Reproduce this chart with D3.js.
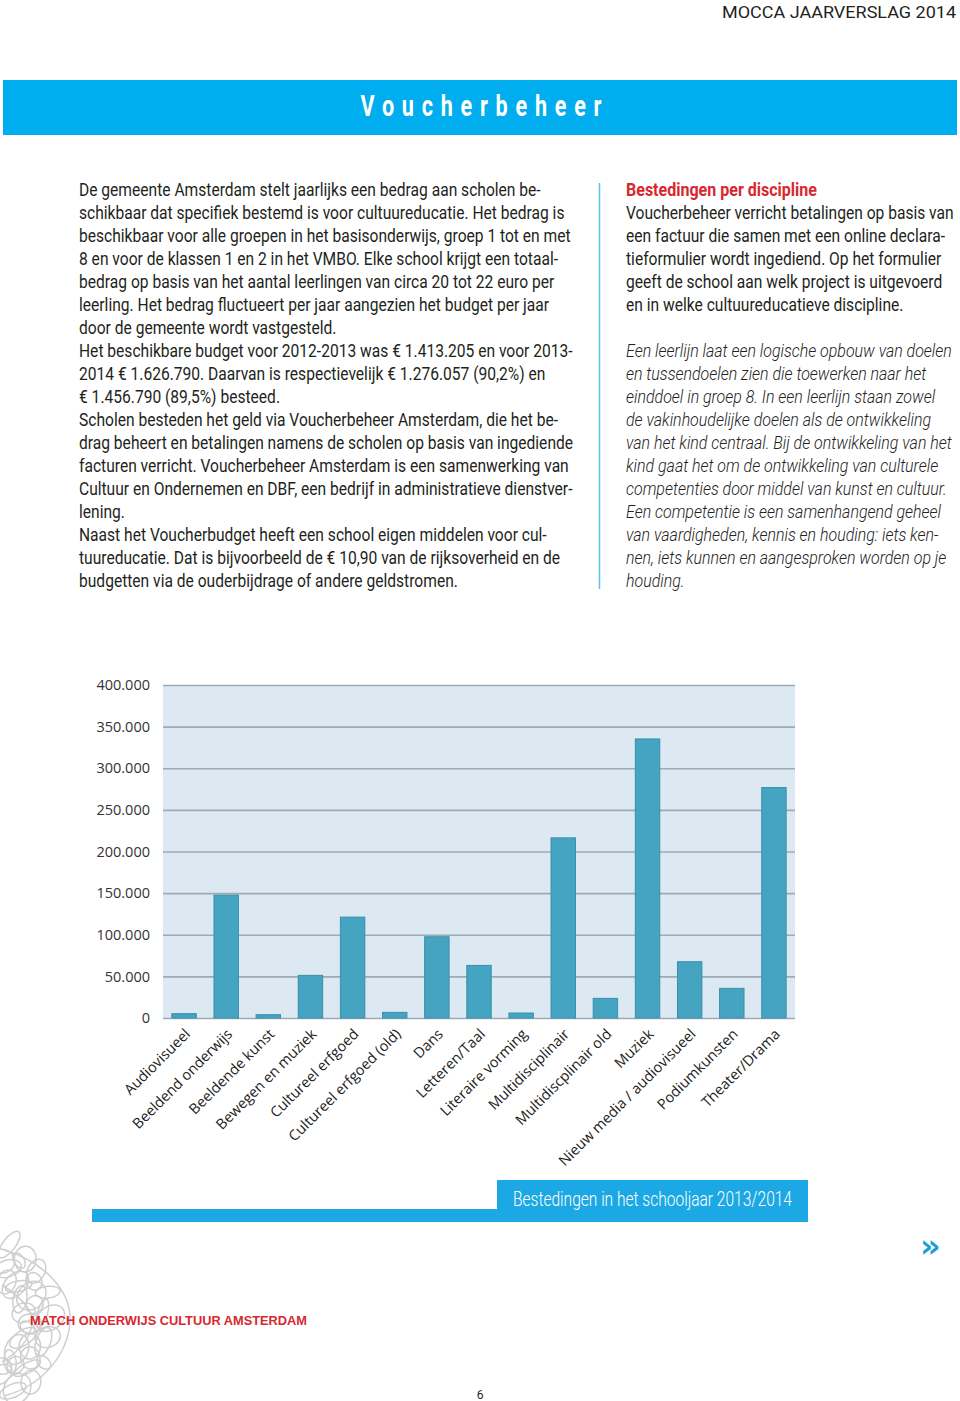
<!DOCTYPE html>
<html><head><meta charset="utf-8">
<script src="https://cdn.jsdelivr.net/npm/d3@7/dist/d3.min.js"></script>
<style>html,body{margin:0;padding:0;background:#fff}svg{display:block}</style>
</head><body>
<script>
// ---- Chart data ----
const categories = ["Audiovisueel","Beeldend onderwijs","Beeldende kunst","Bewegen en muziek","Cultureel erfgoed","Cultureel erfgoed (old)","Dans","Letteren/Taal","Literaire vorming","Multidisciplinair","Multidiscplinair old","Muziek","Nieuw media / audiovisueel","Podiumkunsten","Theater/Drama"];
const values = [5200, 147600, 4000, 51200, 121200, 6800, 97600, 63200, 6000, 216400, 23600, 335200, 67600, 35600, 276800];
const yTicks = [0, 50000, 100000, 150000, 200000, 250000, 300000, 350000, 400000];
const yTickLabels = ["0","50.000","100.000","150.000","200.000","250.000","300.000","350.000","400.000"];

// ---- Page texts ----
const headerText = "MOCCA JAARVERSLAG 2014";
const titleText = "Voucherbeheer";
const leftLines = [
"De gemeente Amsterdam stelt jaarlijks een bedrag aan scholen be-",
"schikbaar dat specifiek bestemd is voor cultuureducatie. Het bedrag is",
"beschikbaar voor alle groepen in het basisonderwijs, groep 1 tot en met",
"8 en voor de klassen 1 en 2 in het VMBO. Elke school krijgt een totaal-",
"bedrag op basis van het aantal leerlingen van circa 20 tot 22 euro per",
"leerling. Het bedrag fluctueert per jaar aangezien het budget per jaar",
"door de gemeente wordt vastgesteld.",
"Het beschikbare budget voor 2012-2013 was \u20AC 1.413.205 en voor 2013-",
"2014 \u20AC 1.626.790. Daarvan is respectievelijk \u20AC 1.276.057 (90,2%) en",
"\u20AC 1.456.790 (89,5%) besteed.",
"Scholen besteden het geld via Voucherbeheer Amsterdam, die het be-",
"drag beheert en betalingen namens de scholen op basis van ingediende",
"facturen verricht. Voucherbeheer Amsterdam is een samenwerking van",
"Cultuur en Ondernemen en DBF, een bedrijf in administratieve dienstver-",
"lening.",
"Naast het Voucherbudget heeft een school eigen middelen voor cul-",
"tuureducatie. Dat is bijvoorbeeld de \u20AC 10,90 van de rijksoverheid en de",
"budgetten via de ouderbijdrage of andere geldstromen."
];
const rightHeading = "Bestedingen per discipline";
const rightLines = [
"Voucherbeheer verricht betalingen op basis van",
"een factuur die samen met een online declara-",
"tieformulier wordt ingediend. Op het formulier",
"geeft de school aan welk project is uitgevoerd",
"en in welke cultuureducatieve discipline."
];
const rightItalic = [
"Een leerlijn laat een logische opbouw van doelen",
"en tussendoelen zien die toewerken naar het",
"einddoel in groep 8. In een leerlijn staan zowel",
"de vakinhoudelijke doelen als de ontwikkeling",
"van het kind centraal. Bij de ontwikkeling van het",
"kind gaat het om de ontwikkeling van culturele",
"competenties door middel van kunst en cultuur.",
"Een competentie is een samenhangend geheel",
"van vaardigheden, kennis en houding: iets ken-",
"nen, iets kunnen en aangesproken worden op je",
"houding."
];
const captionText = "Bestedingen in het schooljaar 2013/2014";
const footerText = "MATCH ONDERWIJS CULTUUR AMSTERDAM";

const W = 960, H = 1401;
const bodyFont = "Roboto,'Liberation Sans',sans-serif";
const blue = "#00adee";
const ink = "#231f20";
const svg = d3.select("body").append("svg").attr("width", W).attr("height", H);

// measure horizontal condensing factor for body text
const bodySize = 17.5;
const probe = svg.append("text").attr("font-family", bodyFont).attr("font-size", bodySize).text(leftLines[2]);
const sx = 492 / probe.node().getComputedTextLength();
probe.remove();
const probeI = svg.append("text").attr("font-family", bodyFont).attr("font-style","italic").attr("font-weight",300)
  .attr("font-size", bodySize).text(rightItalic[4]);
const sxI = 326 / probeI.node().getComputedTextLength();
probeI.remove();

// Header
svg.append("text").attr("x", 956).attr("y", 18).attr("text-anchor","end")
  .attr("font-family", bodyFont).attr("font-size", 16)
  .attr("textLength", 234).attr("lengthAdjust","spacingAndGlyphs")
  .attr("fill", ink).text(headerText);
svg.append("rect").attr("x", 3).attr("y", 80).attr("width", 954).attr("height", 55).attr("fill", blue);
svg.append("text").attr("transform", "translate(481,116) scale(0.72,1)").attr("text-anchor","middle")
  .attr("font-family", bodyFont).attr("font-weight","bold").attr("font-size", 30)
  .attr("textLength", 241/0.72).attr("lengthAdjust","spacing").attr("fill","#fff").text(titleText);

// Body text
const lh = 23, top0 = 196;
svg.append("g").selectAll("text").data(leftLines).join("text")
  .attr("transform", (d,i) => `translate(79,${top0 + i*lh}) scale(${sx},1)`)
  .attr("font-family", bodyFont).attr("font-size", bodySize).attr("fill", ink).text(d => d);

svg.append("line").attr("x1", 599.5).attr("x2", 599.5).attr("y1", 183).attr("y2", 589)
  .attr("stroke", "#5cc3ee").attr("stroke-width", 1.5);

svg.append("text").attr("transform", `translate(626,${top0}) scale(${sx},1)`).attr("font-family", bodyFont)
  .attr("font-weight","bold").attr("font-size", 18).attr("fill", "#d7282f").text(rightHeading);
svg.append("g").selectAll("text").data(rightLines).join("text")
  .attr("transform", (d,i) => `translate(626,${top0 + (i+1)*lh}) scale(${sx},1)`)
  .attr("font-family", bodyFont).attr("font-size", bodySize).attr("fill", ink).text(d => d);
svg.append("g").selectAll("text").data(rightItalic).join("text")
  .attr("transform", (d,i) => `translate(626,${top0 + (i+7)*lh}) scale(${sxI},1)`)
  .attr("font-family", bodyFont).attr("font-style","italic").attr("font-weight",300).attr("font-size", bodySize)
  .attr("fill", "#222").text(d => d);

// ---- Chart ----
const plotL = 163, plotR = 795, plotT = 685, plotB = 1018;
const x = d3.scaleBand().domain(categories).range([plotL, plotR]).paddingInner(0.42).paddingOuter(0.21);
const y = d3.scaleLinear().domain([0, 400000]).range([plotB, plotT]);

svg.append("rect").attr("x", plotL).attr("y", y(400000)).attr("width", plotR-plotL)
  .attr("height", plotB - y(400000)).attr("fill", "#dde9f2");

const yAxis = d3.axisLeft(y).tickValues(yTicks).tickSize(-(plotR-plotL)).tickPadding(13)
  .tickFormat((d,i) => yTickLabels[i]);
const gy = svg.append("g").attr("transform", `translate(${plotL},0)`).call(yAxis);
gy.select(".domain").remove();
gy.selectAll(".tick line").attr("stroke", "#9eabb4").attr("stroke-width", 1.6);
gy.selectAll(".tick text").attr("font-family", "'Open Sans',sans-serif").attr("font-size", 14.5)
  .attr("fill", "#333");

svg.append("g").selectAll("rect").data(values).join("rect")
  .attr("x", (d,i) => x(categories[i])).attr("width", x.bandwidth())
  .attr("y", d => y(d)).attr("height", d => y(0) - y(d))
  .attr("fill", "#45a4c2").attr("stroke", "#3a8fac").attr("stroke-width", 1);

const xAxis = d3.axisBottom(x).tickSize(0).tickPadding(0);
const gx = svg.append("g").attr("transform", `translate(0,${plotB})`).call(xAxis);
gx.select(".domain").remove();
gx.selectAll(".tick text")
  .attr("font-family", "'Open Sans',sans-serif").attr("font-size", 14.5).attr("fill", "#222")
  .attr("text-anchor", "end").attr("dy", 0).attr("y", 0)
  .attr("transform", "translate(7,17) rotate(-45)");

// Caption box
svg.append("rect").attr("x", 92).attr("y", 1209).attr("width", 716).attr("height", 13).attr("fill", "#1ba8e4");
svg.append("rect").attr("x", 497).attr("y", 1180).attr("width", 311).attr("height", 42).attr("fill", "#1ba8e4");
svg.append("text").attr("x", 513).attr("y", 1206).attr("font-family", bodyFont).attr("font-weight",300)
  .attr("font-size", 20).attr("textLength", 279).attr("lengthAdjust","spacingAndGlyphs")
  .attr("fill", "#fff").text(captionText);

// Next-page marker
svg.append("text").attr("x", 920).attr("y", 1257).attr("font-family", "'DejaVu Sans',sans-serif")
  .attr("font-weight","bold").attr("font-size", 32).attr("fill", "#1a9fd9").text("\u00BB");

// Decorative logo scribble (ring of loops at the left edge)
const logo = svg.append("g").attr("fill","none").attr("stroke","#cfcfcf").attr("stroke-width",1.5);
const ringCx = -8, ringCy = 1322;
d3.range(0, 34).forEach(i => {
  const a = (-78 + i * 4.7) * Math.PI / 180;
  const r = 46 + 14 * Math.sin(i * 1.7);
  const cx = ringCx + r * Math.cos(a), cy = ringCy + r * Math.sin(a) * 1.35;
  logo.append("ellipse").attr("cx", cx).attr("cy", cy)
    .attr("rx", 9 + 4 * Math.cos(i * 2.3)).attr("ry", 12 + 4 * Math.sin(i * 1.3))
    .attr("transform", `rotate(${i * 37 % 180},${cx},${cy})`);
});
logo.append("path").attr("d","M4,1250 C45,1262 72,1292 70,1322 C68,1352 45,1385 4,1396");
logo.append("path").attr("d","M2,1285 C22,1298 34,1312 32,1324 C30,1340 18,1352 2,1362");

svg.append("text").attr("x", 30).attr("y", 1324.5).attr("font-family", "'Liberation Sans',Arial,sans-serif")
  .attr("font-weight","bold").attr("font-size", 13).attr("fill", "#d7282f")
  .attr("textLength", 277).attr("lengthAdjust","spacingAndGlyphs").text(footerText);

svg.append("text").attr("x", 480).attr("y", 1399).attr("text-anchor","middle")
  .attr("font-family", bodyFont).attr("font-size", 12).attr("fill", ink).text("6");
</script>
</body></html>
